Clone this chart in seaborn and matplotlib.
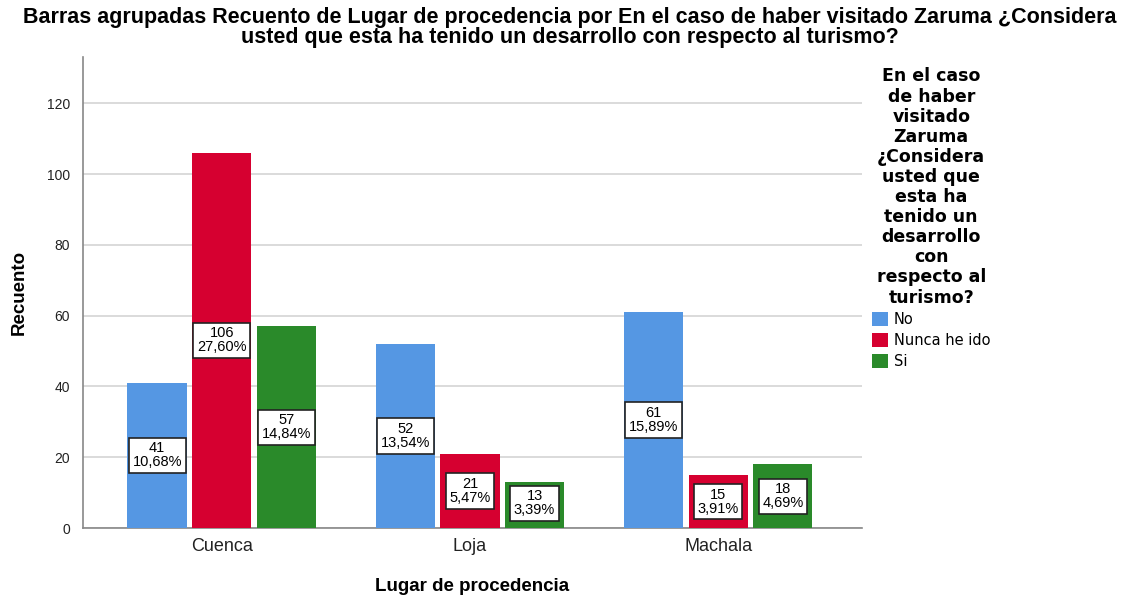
import matplotlib
matplotlib.use("Agg")
import matplotlib.pyplot as plt
import seaborn as sns
import pandas as pd

# data
lugares = ["Cuenca", "Loja", "Machala"]
respuestas = ["No", "Nunca he ido", "Si"]
recuento_no = [41, 52, 61]
recuento_nunca = [106, 21, 15]
recuento_si = [57, 13, 18]
porcentajes_no = ["10,68%", "13,54%", "15,89%"]
porcentajes_nunca = ["27,60%", "5,47%", "3,91%"]
porcentajes_si = ["14,84%", "3,39%", "4,69%"]

colores = ["#5597E3", "#D60030", "#2A8A2A"]

rows = []
for resp, vals, pcts in zip(respuestas,
                            [recuento_no, recuento_nunca, recuento_si],
                            [porcentajes_no, porcentajes_nunca, porcentajes_si]):
    for lug, v, p in zip(lugares, vals, pcts):
        rows.append({"Lugar": lug, "Resp": resp, "Recuento": v, "Pct": p})
df = pd.DataFrame(rows)

sns.set_theme(style="white")
plt.rcParams["font.family"] = ["Liberation Sans", "DejaVu Sans"]
plt.rcParams["text.color"] = "black"

fig = plt.figure(figsize=(11.33, 5.96), dpi=100)
ax = fig.add_axes([0.073, 0.114, 0.688, 0.79])

sns.barplot(data=df, x="Lugar", y="Recuento", hue="Resp", order=lugares,
            hue_order=respuestas, palette=colores, width=0.78, gap=0.08,
            saturation=1, linewidth=0, legend=True, ax=ax, zorder=3)

# labels in the middle of each bar
for cont, resp in zip(ax.containers, respuestas):
    sub = df[df["Resp"] == resp].set_index("Lugar").loc[lugares]
    for bar, v, p in zip(cont, sub["Recuento"], sub["Pct"]):
        xc = bar.get_x() + bar.get_width() / 2
        yc = max(v / 2, 7)
        ax.text(xc, yc, f"{v}\n{p}", ha="center", va="center", fontsize=10.5,
                linespacing=1.0, zorder=5, color="black",
                bbox=dict(boxstyle="square,pad=0.25", fc="white", ec="#222222", lw=1.2))

ax.set_ylim(0, 133)
ax.set_xlim(-0.56, 2.58)
ax.set_yticks([0, 20, 40, 60, 80, 100, 120])
ax.yaxis.grid(True, color="#d4d4d4", lw=1.2, zorder=0)
ax.tick_params(axis="y", labelsize=10, length=0, pad=9, colors="#222222")
ax.tick_params(axis="x", labelsize=13, length=0, pad=7, colors="#222222")
for s in ["top", "right"]:
    ax.spines[s].set_visible(False)
for s in ["left", "bottom"]:
    ax.spines[s].set_color("#888888")
    ax.spines[s].set_linewidth(1.2)

ax.set_xlabel("Lugar de procedencia", fontsize=13.5, fontweight="bold", labelpad=17,
              color="black")
ax.set_ylabel("Recuento", fontsize=13.5, fontweight="bold", labelpad=14, color="black")

fig.suptitle("Barras agrupadas Recuento de Lugar de procedencia por En el caso de haber visitado Zaruma ¿Considera\n"
             "usted que esta ha tenido un desarrollo con respecto al turismo?",
             fontsize=15.5, fontweight="bold", x=0.503, y=0.988, linespacing=0.9,
             color="black")

titulo_leg = ("En el caso\nde haber\nvisitado\nZaruma\n¿Considera\nusted que\nesta ha\n"
              "tenido un\ndesarrollo\ncon\nrespecto al\nturismo?")
leg = ax.legend(title=titulo_leg, loc="upper left", bbox_to_anchor=(1.0, 1.0),
                frameon=False, prop={"family": "DejaVu Sans", "size": 10.5},
                title_fontsize=12.5,
                handlelength=1.1, handleheight=1.1, handletextpad=0.35,
                labelspacing=0.4, borderaxespad=0.3)
t = leg.get_title()
t.set_fontweight("bold")
t.set_family("DejaVu Sans")
t.set_linespacing(1.15)
t.set_multialignment("center")
t.set_color("black")
leg._legend_box.align = "center"

fig.savefig("out.png", dpi=100)
